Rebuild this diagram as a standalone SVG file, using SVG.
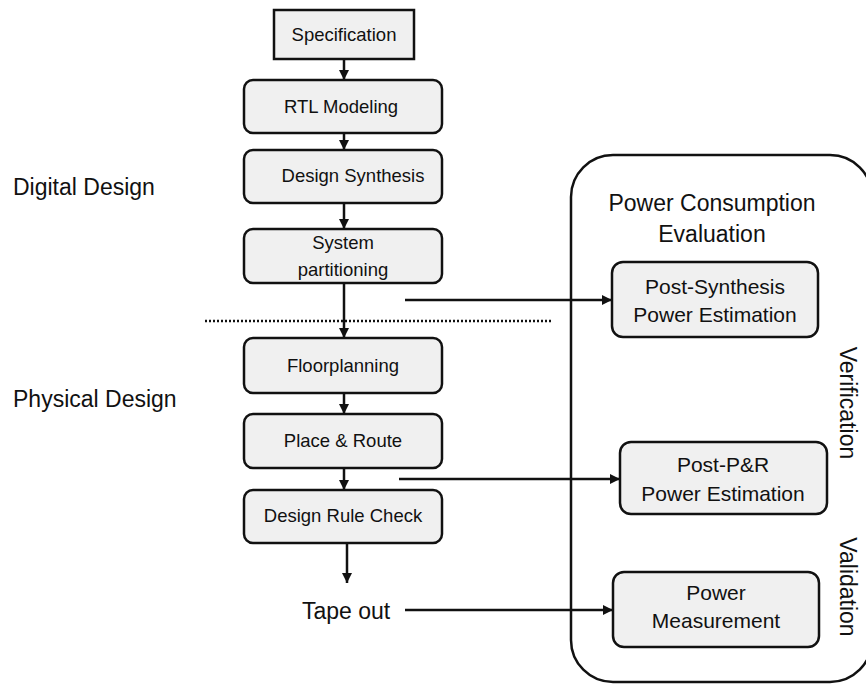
<svg xmlns="http://www.w3.org/2000/svg" width="866" height="684" viewBox="0 0 866 684">
<style>
text{font-family:"Liberation Sans",Arial,sans-serif;fill:#111}
.box{fill:#f0f0f0;stroke:#111;stroke-width:2.5}
.l{font-size:18.5px;text-anchor:middle}
.r{font-size:21px;text-anchor:middle}
.big{font-size:23px}
.conn{stroke:#111;stroke-width:2.5;fill:none}
</style>
<defs>
<marker id="ah" viewBox="0 0 10 10" refX="10" refY="5" markerWidth="4" markerHeight="4" orient="auto" markerUnits="strokeWidth">
<path d="M0,0 L10,5 L0,10 z" fill="#111"/>
</marker>
</defs>
<rect x="0" y="0" width="866" height="684" fill="#fff"/>
<g id="container">
<rect x="571" y="155" width="301" height="527" rx="42" ry="42" fill="none" stroke="#111" stroke-width="2.5"/>
<text class="big" x="712" y="211" text-anchor="middle">Power Consumption</text>
<text class="big" x="712" y="242" text-anchor="middle">Evaluation</text>
</g>
<g id="labels">
<text class="big" x="13" y="195">Digital Design</text>
<text class="big" x="13" y="407">Physical Design</text>
<text class="big" x="840" y="403" text-anchor="middle" transform="rotate(90 840 403)" font-size="24">Verification</text>
<text class="big" x="840" y="587" text-anchor="middle" transform="rotate(90 840 587)" font-size="24">Validation</text>
</g>
<g id="spec"><rect class="box" x="274" y="10" width="140" height="49"/><text class="l" x="344" y="41">Specification</text></g>
<g id="rtl"><rect class="box" x="244" y="80" width="198" height="53" rx="9"/><text class="l" x="341" y="113">RTL Modeling</text></g>
<g id="synth"><rect class="box" x="244" y="150" width="198" height="53" rx="9"/><text class="l" x="353" y="182">Design Synthesis</text></g>
<g id="part"><rect class="box" x="244" y="229" width="198" height="54" rx="9"/><text class="l" x="343" y="249">System</text><text class="l" x="343" y="276">partitioning</text></g>
<g id="floor"><rect class="box" x="244" y="338" width="198" height="55" rx="9"/><text class="l" x="343" y="372">Floorplanning</text></g>
<g id="pr"><rect class="box" x="244" y="414" width="198" height="54" rx="9"/><text class="l" x="343" y="447">Place &amp; Route</text></g>
<g id="drc"><rect class="box" x="244" y="490" width="198" height="53" rx="9"/><text class="l" x="343" y="522">Design Rule Check</text></g>
<g id="tape"><text class="big" x="346" y="619" text-anchor="middle" font-size="24">Tape out</text></g>
<g id="postsyn"><rect class="box" x="612" y="262" width="206" height="75" rx="11"/><text class="r" x="715" y="294">Post-Synthesis</text><text class="r" x="715" y="322">Power Estimation</text></g>
<g id="postpr"><rect class="box" x="620" y="442" width="207" height="72" rx="11"/><text class="r" x="723" y="472">Post-P&amp;R</text><text class="r" x="723" y="501">Power Estimation</text></g>
<g id="meas"><rect class="box" x="613" y="572" width="206" height="75" rx="11"/><text class="r" x="716" y="600">Power</text><text class="r" x="716" y="628">Measurement</text></g>
<g id="connectors">
<line class="conn" x1="344" y1="59" x2="344" y2="80" marker-end="url(#ah)"/>
<line class="conn" x1="344" y1="133" x2="344" y2="150" marker-end="url(#ah)"/>
<line class="conn" x1="344" y1="203" x2="344" y2="229" marker-end="url(#ah)"/>
<line class="conn" x1="344" y1="283" x2="344" y2="338" marker-end="url(#ah)"/>
<line class="conn" x1="344" y1="393" x2="344" y2="414" marker-end="url(#ah)"/>
<line class="conn" x1="344" y1="468" x2="344" y2="490" marker-end="url(#ah)"/>
<line class="conn" x1="347" y1="543" x2="347" y2="583" marker-end="url(#ah)"/>
<line class="conn" x1="405" y1="300" x2="612" y2="300" marker-end="url(#ah)"/>
<line class="conn" x1="399" y1="479" x2="620" y2="479" marker-end="url(#ah)"/>
<line class="conn" x1="405" y1="610" x2="613" y2="610" marker-end="url(#ah)"/>
<line x1="205" y1="321" x2="553" y2="321" stroke="#111" stroke-width="2.5" stroke-dasharray="2 2"/>
</g>
</svg>
